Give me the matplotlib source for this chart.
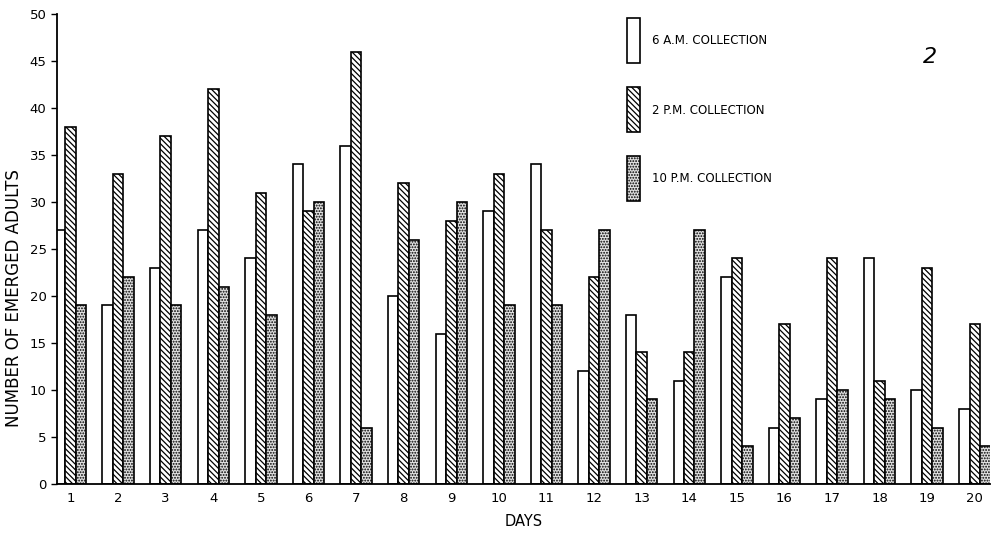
import numpy as np
import matplotlib
matplotlib.use('Agg')
import matplotlib.pyplot as plt

# Emerged adults per collection time
days = list(range(1, 21))
am6 = [27, 19, 23, 27, 24, 34, 36, 20, 16, 29, 34, 12, 18, 11, 22, 6, 9, 24, 10, 8]
pm2 = [38, 33, 37, 42, 31, 29, 46, 32, 28, 33, 27, 22, 14, 14, 24, 17, 24, 11, 23, 17]
pm10 = [19, 22, 19, 21, 18, 30, 6, 26, 30, 19, 19, 27, 9, 27, 4, 7, 10, 9, 6, 4]
yticks = [0, 5, 10, 15, 20, 25, 30, 35, 40, 45, 50]

plt.rcParams['font.family'] = ['DejaVu Sans']
plt.rcParams['hatch.linewidth'] = 0.9

fig = plt.figure(figsize=(9.95, 5.34), dpi=100)
ax = fig.add_axes([0.0573, 0.0936, 0.9377, 0.8802])

x = np.array(days)
w = 0.22
hatch_diag = '\\' * 6
hatch_dot = '......'
ax.bar(x - w, am6, w, facecolor='white', edgecolor='black', linewidth=1.2)
ax.bar(x, pm2, w, facecolor='white', edgecolor='black', linewidth=1.2, hatch=hatch_diag)
ax.bar(x + w, pm10, w, facecolor='#e0e0e0', edgecolor='black', linewidth=1.2, hatch=hatch_dot)

ax.set_xlim(0.716, 20.32)
ax.set_ylim(0, 50)
ax.set_yticks(yticks)
ax.set_xticks(days)
ax.tick_params(axis='y', length=4, width=1, labelsize=9.5)
ax.tick_params(axis='x', length=0, pad=6, labelsize=9.5)
for s in ['top', 'right']:
    ax.spines[s].set_visible(False)
ax.spines['left'].set_linewidth(1.3)
ax.spines['bottom'].set_linewidth(1.3)

ax.set_ylabel('NUMBER OF EMERGED ADULTS', fontsize=12)
ax.yaxis.set_label_coords(-0.036, 0.396)
ax.set_xlabel('DAYS', fontsize=10.5, labelpad=6)

# legend drawn as boxes + text in figure coords
legend_items = [('6 A.M. COLLECTION', 'white', None),
                ('2 P.M. COLLECTION', 'white', hatch_diag),
                ('10 P.M. COLLECTION', '#e0e0e0', hatch_dot)]
for i, (lab, fc, h) in enumerate(legend_items):
    top = 1 - (18 + i * 69) / 534
    fig.patches.append(plt.Rectangle((627 / 995, top - 45 / 534), 13 / 995, 45 / 534,
                                     transform=fig.transFigure, facecolor=fc,
                                     edgecolor='black', linewidth=1.2, hatch=h))
    fig.text(652 / 995, top - 23 / 534, lab, fontsize=8.5, va='center', ha='left')

fig.text(930 / 995, 1 - 57 / 534, '2', fontsize=16, style='italic', va='center', ha='center')

fig.savefig('out.png', dpi=100)
